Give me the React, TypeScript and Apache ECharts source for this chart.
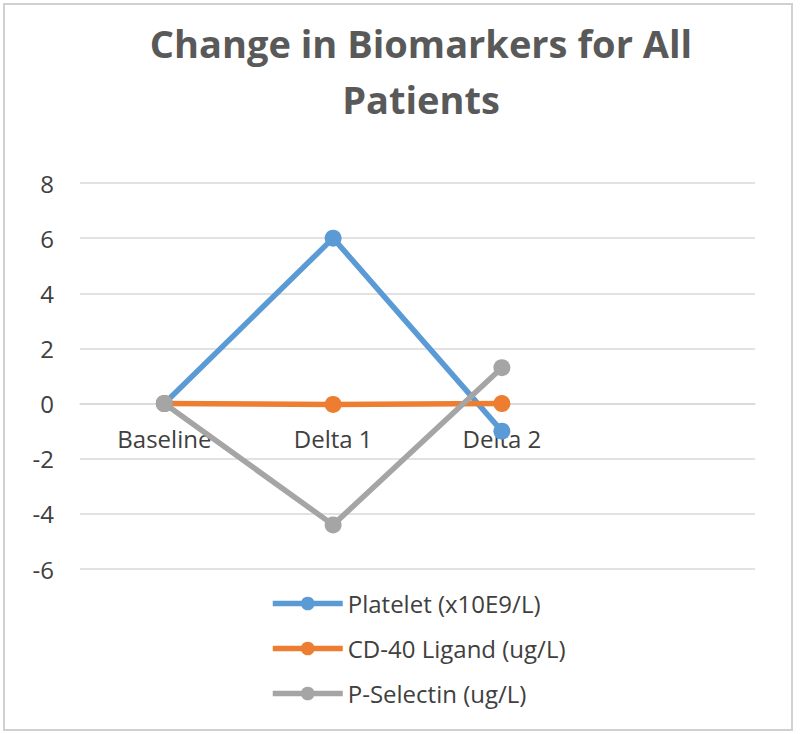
import React, { useEffect, useRef } from "react";
import * as echarts from "echarts";

const categories = ["Baseline", "Delta 1", "Delta 2", ""];
const platelet = [0, 6, -1];
const cd40 = [0, -0.03, 0];
const pSelectin = [0, -4.4, 1.3];
const seriesNames = ["Platelet (x10E9/L)", "CD-40 Ligand (ug/L)", "P-Selectin (ug/L)"];
const colors = ["#5B9BD5", "#ED7D31", "#A5A5A5"];

const FONT = "Open Sans";

export default function App() {
  const ref = useRef<HTMLDivElement>(null);
  useEffect(() => {
    if (!ref.current) return;
    const chart = echarts.init(ref.current, null, { renderer: "svg" });
    const mk = (name: string, data: number[], color: string) => ({
      name,
      type: "line",
      data,
      symbol: "circle",
      symbolSize: 17,
      lineStyle: { width: 5.5, color },
      itemStyle: { color },
      z: 3,
    });
    chart.setOption({
      animation: false,
      backgroundColor: "#ffffff",
      textStyle: { fontFamily: FONT },
      title: {
        text: "Change in Biomarkers for All\nPatients",
        left: 416,
        textAlign: "center",
        top: 10,
        textStyle: {
          fontFamily: FONT,
          fontSize: 38,
          fontWeight: "bold",
          color: "#595959",
          lineHeight: 56,
        },
      },
      grid: { left: 80, right: 45, top: 183, bottom: 165, containLabel: false },
      xAxis: {
        type: "category",
        data: categories,
        boundaryGap: true,
        offset: -165.4,
        axisLine: { show: true, onZero: false, lineStyle: { color: "#d9d9d9", width: 1.5 } },
        axisTick: { show: false },
        axisLabel: { fontSize: 24, color: "#404040", margin: 23, fontFamily: FONT },
        splitLine: { show: false },
      },
      yAxis: {
        type: "value",
        min: -6,
        max: 8,
        interval: 2,
        axisLine: { show: false },
        axisTick: { show: false },
        axisLabel: { fontSize: 24, color: "#404040", margin: 26, fontFamily: FONT },
        splitLine: { lineStyle: { color: "#d9d9d9", width: 1.5 } },
      },
      legend: {
        orient: "vertical",
        left: 265,
        top: 586,
        itemWidth: 70,
        itemHeight: 17,
        itemGap: 20,
        lineStyle: { width: 5.5 },
        textStyle: { fontSize: 24, lineHeight: 25, color: "#404040", fontFamily: FONT },
        data: seriesNames,
      },
      series: [
        mk(seriesNames[0], platelet, colors[0]),
        mk(seriesNames[1], cd40, colors[1]),
        mk(seriesNames[2], pSelectin, colors[2]),
      ],
      graphic: [
        {
          type: "rect",
          shape: { x: 4, y: 4, width: 788, height: 726 },
          style: { fill: "none", stroke: "#d0d0d0", lineWidth: 2 },
          silent: true,
        },
      ],
    });
    return () => chart.dispose();
  }, []);
  return (
    <div
      ref={ref}
      style={{ position: "fixed", left: 0, top: 0, width: 800, height: 734 }}
    />
  );
}
